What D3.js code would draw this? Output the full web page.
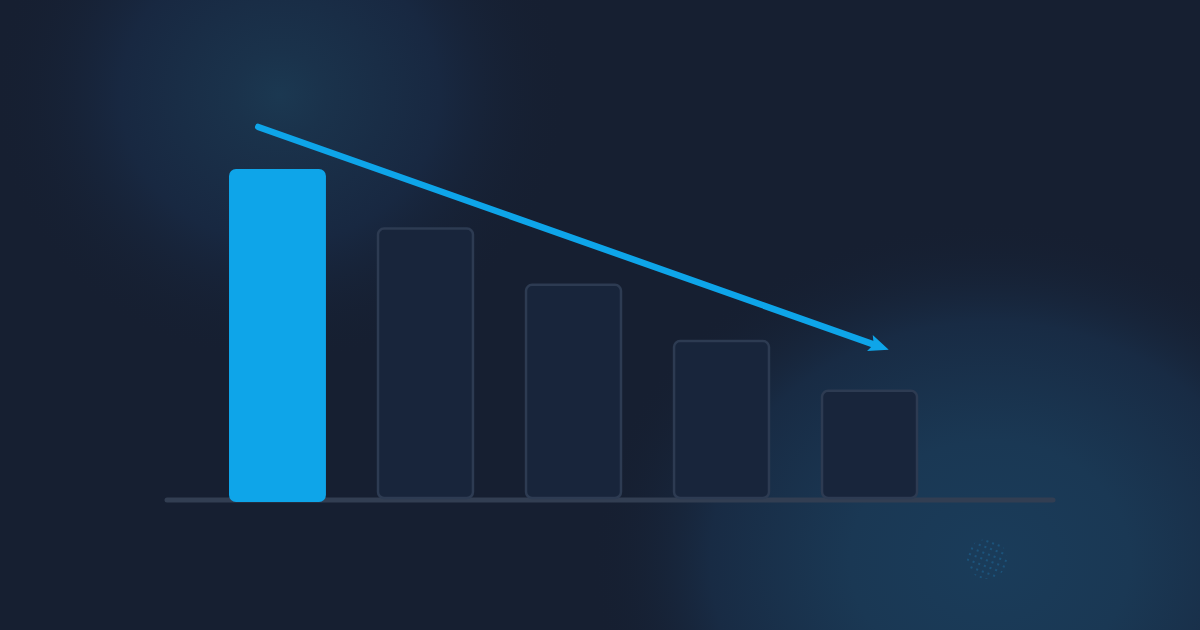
<!DOCTYPE html>
<html>
<head>
<meta charset="utf-8">
<script src="https://cdn.jsdelivr.net/npm/d3@7"></script>
<style>
  html, body { margin: 0; padding: 0; background: #161f31; }
  #chart { width: 1200px; height: 630px; }
</style>
</head>
<body>
<div id="chart"></div>
<script>
// bar data (relative heights, first bar = 100)
const categories = ['A', 'B', 'C', 'D', 'E'];
const values = [100, 82, 65, 48, 33];
// trend arrow: bar index (fractional) and value at each end
const trendIndex = [-0.13, 4.13];
const trendValue = [112.7, 45.4];

const width = 1200, height = 630;
const margin = { top: 169, bottom: 130, left: 229, right: 282 };

const svg = d3.select('#chart').append('svg')
  .attr('width', width)
  .attr('height', height);

const defs = svg.append('defs');

// background glows
const glowA = defs.append('radialGradient').attr('id', 'glowA');
glowA.append('stop').attr('offset', '0%').attr('stop-color', '#1b3851');
glowA.append('stop').attr('offset', '16%').attr('stop-color', '#1a324b');
glowA.append('stop').attr('offset', '55%').attr('stop-color', '#182841');
glowA.append('stop').attr('offset', '100%').attr('stop-color', '#161f31').attr('stop-opacity', 0);

const glowB = defs.append('radialGradient').attr('id', 'glowB');
glowB.append('stop').attr('offset', '0%').attr('stop-color', '#1a3c5a');
glowB.append('stop').attr('offset', '35%').attr('stop-color', '#1a3854');
glowB.append('stop').attr('offset', '70%').attr('stop-color', '#182b44');
glowB.append('stop').attr('offset', '100%').attr('stop-color', '#161f31').attr('stop-opacity', 0);

const dots = defs.append('pattern')
  .attr('id', 'dots')
  .attr('width', 6).attr('height', 6)
  .attr('patternUnits', 'userSpaceOnUse')
  .attr('patternTransform', 'rotate(20)');
dots.append('circle').attr('cx', 3).attr('cy', 3).attr('r', 0.7).attr('fill', '#1e86c8');

svg.append('rect').attr('width', width).attr('height', height).attr('fill', '#161f31');
svg.append('ellipse').attr('cx', 280).attr('cy', 95).attr('rx', 290).attr('ry', 270).attr('fill', 'url(#glowA)');
svg.append('ellipse').attr('cx', 990).attr('cy', 560).attr('rx', 400).attr('ry', 340).attr('fill', 'url(#glowB)');
svg.append('circle').attr('cx', 987).attr('cy', 559).attr('r', 20).attr('fill', 'url(#dots)').attr('opacity', 0.85);

// scales
const x = d3.scaleBand()
  .domain(categories)
  .range([margin.left, width - margin.right])
  .paddingInner(0.345)
  .paddingOuter(0);

const y = d3.scaleLinear()
  .domain([0, 100])
  .range([height - margin.bottom, margin.top]);

const xi = d3.scaleLinear()
  .domain([0, categories.length - 1])
  .range([x(categories[0]) + x.bandwidth() / 2, x(categories[categories.length - 1]) + x.bandwidth() / 2]);

const plot = svg.append('g');

// baseline
plot.append('line')
  .attr('x1', margin.left - 62)
  .attr('x2', width - 147)
  .attr('y1', y(0))
  .attr('y2', y(0))
  .attr('stroke', '#323e52')
  .attr('stroke-width', 5)
  .attr('stroke-linecap', 'round');

// bars
plot.append('g')
  .selectAll('rect')
  .data(values)
  .join('rect')
  .attr('x', (d, i) => i === 0 ? x(categories[i]) : x(categories[i]) + 1)
  .attr('y', d => y(d))
  .attr('width', (d, i) => i === 0 ? x.bandwidth() : x.bandwidth() - 2)
  .attr('height', (d, i) => i === 0 ? y(0) - y(d) + 2 : y(0) - y(d) - 2)
  .attr('rx', (d, i) => i === 0 ? 7 : 6)
  .attr('fill', (d, i) => i === 0 ? '#0ea5e9' : '#18253b')
  .attr('stroke', (d, i) => i === 0 ? 'none' : '#2d3b52')
  .attr('stroke-width', 2.5);

// trend arrow
const pts = trendIndex.map((t, i) => [xi(t), y(trendValue[i])]);
const ang = Math.atan2(pts[1][1] - pts[0][1], pts[1][0] - pts[0][0]);
const headLen = 20, headW = 8.5;
const tip = pts[1];
const base = [tip[0] - headLen * Math.cos(ang), tip[1] - headLen * Math.sin(ang)];
const notch = [base[0] + 4 * Math.cos(ang), base[1] + 4 * Math.sin(ang)];

plot.append('line')
  .attr('x1', pts[0][0]).attr('y1', pts[0][1])
  .attr('x2', notch[0] + 2 * Math.cos(ang)).attr('y2', notch[1] + 2 * Math.sin(ang))
  .attr('stroke', '#0ea5e9')
  .attr('stroke-width', 6.5)
  .attr('stroke-linecap', 'round');

plot.append('path')
  .attr('d', d3.line()([
    tip,
    [base[0] + headW * Math.sin(ang), base[1] - headW * Math.cos(ang)],
    notch,
    [base[0] - headW * Math.sin(ang), base[1] + headW * Math.cos(ang)]
  ]) + 'Z')
  .attr('fill', '#0ea5e9');
</script>
</body>
</html>
